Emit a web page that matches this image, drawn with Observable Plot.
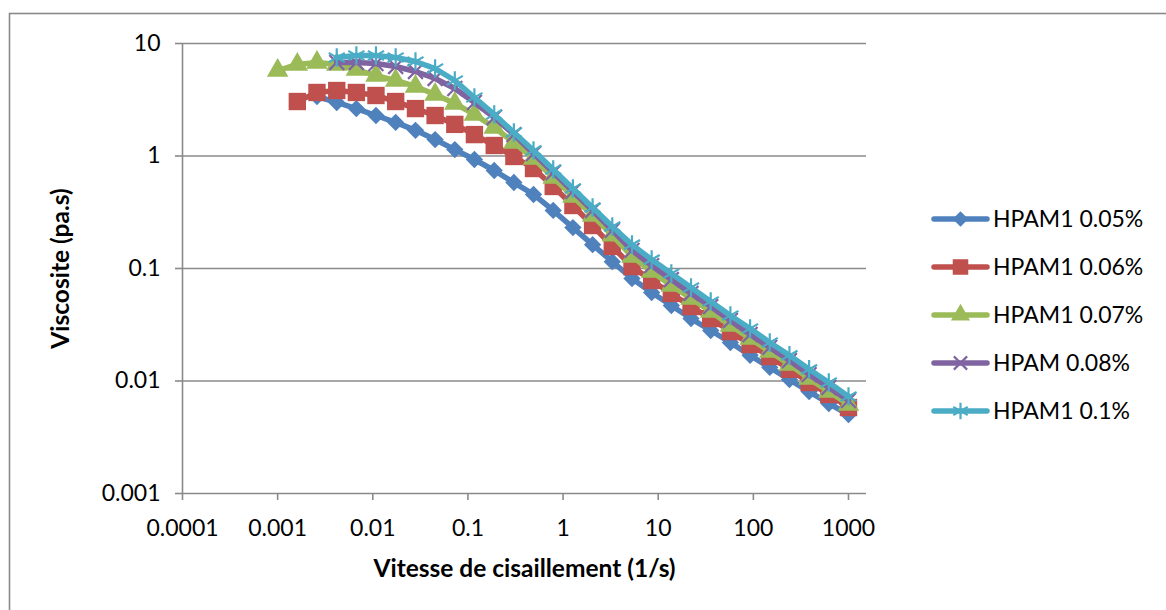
<!DOCTYPE html>
<html><head><meta charset="utf-8">
<script src="https://cdn.jsdelivr.net/npm/d3@7"></script>
<script src="https://cdn.jsdelivr.net/npm/@observablehq/plot@0.6"></script>
<style>
body{margin:0;background:#fff;}
#chart{position:relative;width:1166px;height:610px;overflow:hidden;background:#fff;}
</style>
</head><body><div id="chart"></div>
<script>
// Shear rates (1/s), shared grid; each series ends at 1000
const shearRates = [0.001, 0.00161, 0.00259, 0.00418, 0.00672, 0.0108, 0.0174, 0.0281, 0.0452, 0.0728,
  0.117, 0.189, 0.304, 0.489, 0.788, 1.269, 2.043, 3.29, 5.30, 8.53,
  13.74, 22.12, 35.62, 57.36, 92.37, 148.7, 239.5, 385.6, 621.0, 1000];

const seriesNames = ["HPAM1 0.05%", "HPAM1 0.06%", "HPAM1 0.07%", "HPAM 0.08%", "HPAM1 0.1%"];

// Viscosity (pa.s)
const visc005 = [3.38, 2.99, 2.64, 2.29, 1.99, 1.69, 1.40, 1.14, 0.931, 0.743, 0.581, 0.455, 0.328, 0.231,
  0.163, 0.115, 0.0815, 0.0612, 0.0469, 0.0359, 0.0281, 0.0220, 0.0169, 0.0132, 0.0103, 0.00806, 0.00631, 0.00504];
const visc006 = [3.05, 3.67, 3.82, 3.67, 3.45, 3.05, 2.64, 2.29, 1.91, 1.55, 1.24, 0.99, 0.774, 0.536, 0.363,
  0.241, 0.157, 0.104, 0.0782, 0.0600, 0.0459, 0.0359, 0.0275, 0.0211, 0.0165, 0.0127, 0.00970, 0.00759, 0.00581];
const visc007 = [5.75, 6.51, 6.78, 6.51, 5.87, 5.19, 4.69, 4.15, 3.52, 2.93, 2.34, 1.79, 1.32, 0.950, 0.644,
  0.437, 0.296, 0.197, 0.128, 0.0940, 0.0706, 0.0541, 0.0415, 0.0311, 0.0239, 0.0183, 0.0140, 0.0105, 0.00806, 0.00618];
const visc008 = [6.78, 6.78, 6.64, 6.25, 5.64, 4.89, 3.98, 2.99, 2.20, 1.55, 1.05, 0.713, 0.484, 0.328, 0.218,
  0.145, 0.106, 0.0798, 0.0600, 0.0459, 0.0345, 0.0259, 0.0199, 0.0152, 0.0114, 0.00876, 0.00671];
const visc010 = [7.51, 7.82, 7.82, 7.51, 6.92, 5.99, 4.69, 3.31, 2.34, 1.62, 1.12, 0.759, 0.514, 0.348, 0.236,
  0.163, 0.120, 0.0903, 0.0678, 0.0509, 0.0382, 0.0293, 0.0220, 0.0169, 0.0127, 0.00970, 0.00728];

const xTicks = [0.0001, 0.001, 0.01, 0.1, 1, 10, 100, 1000];
const xTickLabels = ["0.0001", "0.001", "0.01", "0.1", "1", "10", "100", "1000"];
const yTicks = [0.001, 0.01, 0.1, 1, 10];
const yTickLabels = ["0.001", "0.01", "0.1", "1", "10"];

const xTitle = "Vitesse de cisaillement (1/s)";
const yTitle = "Viscosite (pa.s)";

const seriesValues = [visc005, visc006, visc007, visc008, visc010];
const colors = ["#4F81BD", "#C0504D", "#9BBB59", "#8064A2", "#4BACC6"];
const symbols = ["diamond2", "square", "triangle", "times", "asterisk"];
const filled = [true, true, true, false, false];
const radii = [7.8, 9.8, 8.0, 6.8, 8.8];
const gridColor = "#8a8a8a";
const font = "Lato, 'Open Sans', sans-serif";

const data = [];
seriesNames.forEach((name, k) => {
  const vals = seriesValues[k];
  const xs = shearRates.slice(shearRates.length - vals.length);
  vals.forEach((v, i) => data.push({series: name, rate: xs[i], visc: v}));
});

const marks = [
  Plot.ruleY(yTicks.slice(1), {stroke: gridColor, strokeWidth: 1.6}),
  Plot.ruleY([0.001], {stroke: gridColor, strokeWidth: 1.6}),
  Plot.ruleX([0.0001], {stroke: gridColor, strokeWidth: 1.6}),
  Plot.axisX({ticks: xTicks, tickFormat: d => xTickLabels[xTicks.indexOf(d)], tickSize: 7, tickPadding: 19,
    stroke: gridColor, strokeWidth: 1.6, fill: "#000", fontSize: 23, label: null}),
  Plot.axisY({ticks: yTicks, tickFormat: d => yTickLabels[yTicks.indexOf(d)], tickSize: 7, tickPadding: 15,
    stroke: gridColor, strokeWidth: 1.6, fill: "#000", fontSize: 23, label: null}),
  Plot.text([xTitle], {frameAnchor: "bottom", dy: 76, lineAnchor: "middle", textAnchor: "middle",
    fontWeight: "bold", fontSize: 24.5, fill: "#000"}),
  Plot.text([yTitle], {frameAnchor: "left", dx: -121, rotate: -90, lineAnchor: "middle", textAnchor: "middle",
    fontWeight: "bold", fontSize: 24.5, fill: "#000"})
];

seriesNames.forEach((name, k) => {
  const rows = data.filter(d => d.series === name);
  marks.push(Plot.line(rows, {x: "rate", y: "visc", stroke: colors[k], strokeWidth: 5.5, strokeLinejoin: "round", strokeLinecap: "round"}));
  if (filled[k]) {
    marks.push(Plot.dot(rows, {x: "rate", y: "visc", symbol: symbols[k], r: radii[k], fill: colors[k], stroke: "none"}));
  } else {
    marks.push(Plot.dot(rows, {x: "rate", y: "visc", symbol: symbols[k], r: radii[k], fill: "none", stroke: colors[k], strokeWidth: 2.2}));
  }
});

const chart = Plot.plot({
  width: 1166, height: 610,
  marginLeft: 182, marginRight: 300, marginTop: 43, marginBottom: 117,
  x: {type: "log", domain: [0.0001, 1546]},
  y: {type: "log", domain: [0.001, 10]},
  style: {fontFamily: font, fontSize: "23px", color: "#000", background: "#fff"},
  marks
});

document.getElementById("chart").appendChild(chart);

// outer chart-area border
const svg = d3.select(chart);
svg.insert("rect", ":first-child")
  .attr("x", 9.5).attr("y", 13.5).attr("width", 1200).attr("height", 700)
  .attr("fill", "#fff").attr("stroke", gridColor).attr("stroke-width", 1.6);

// legend
const lg = svg.append("g").attr("font-family", font).attr("font-size", 23).attr("text-anchor", "start");
const symMap = {diamond2: d3.symbolDiamond2, square: d3.symbolSquare, triangle: d3.symbolTriangle, times: d3.symbolTimes, asterisk: d3.symbolAsterisk};
seriesNames.forEach((name, k) => {
  const cy = 219 + k * 48;
  lg.append("line").attr("x1", 934).attr("x2", 987).attr("y1", cy).attr("y2", cy)
    .attr("stroke", colors[k]).attr("stroke-width", 5.5).attr("stroke-linecap", "round");
  const p = d3.symbol(symMap[symbols[k]], Math.PI * radii[k] * radii[k] * 0.8)();
  const m = lg.append("path").attr("d", p).attr("transform", `translate(960.5,${cy})`);
  if (filled[k]) m.attr("fill", colors[k]); else m.attr("fill", "none").attr("stroke", colors[k]).attr("stroke-width", 2.2);
  lg.append("text").attr("x", 993).attr("y", cy).attr("dy", "0.35em").attr("fill", "#000").attr("text-anchor", "start").text(name);
});
</script>
</body></html>
